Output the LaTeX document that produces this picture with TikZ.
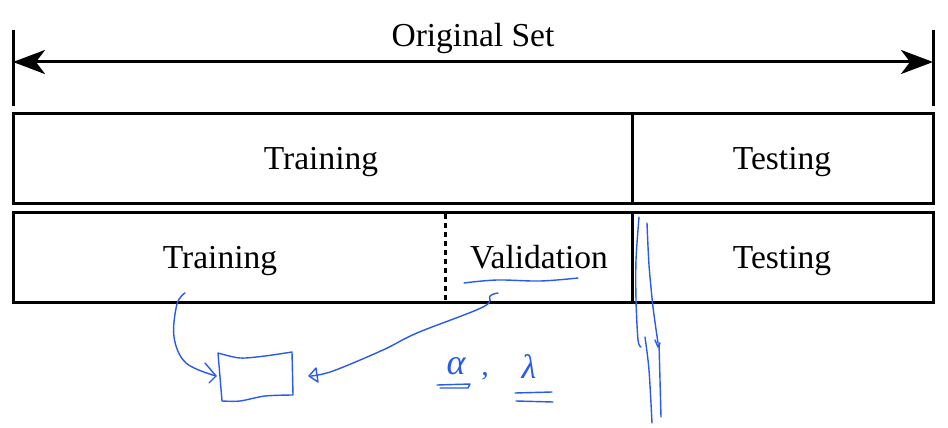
\documentclass[tikz,border=0pt]{standalone}
\usepackage{fontspec}
\setmainfont{Liberation Serif}
\usetikzlibrary{arrows.meta, positioning}
\definecolor{ink}{RGB}{40,90,235}

\begin{document}
\begin{tikzpicture}[x=1pt, y=-1pt,
  frame/.style={line width=3pt, black},
  lbl/.style={font=\fontsize{33.5}{38}\selectfont, inner sep=0pt, anchor=base},
  pen/.style={ink, line width=1.4pt, line cap=round, line join=round},
  hand/.style={ink, inner sep=0pt, font=\itshape}
]
  \useasboundingbox (0,0) rectangle (948,428);

  % Span of the original set
  \coordinate (setL) at (13,62);
  \coordinate (setR) at (933,62);
  \draw[frame] (13,30) -- (13,106);
  \draw[frame] (933,30) -- (933,106);
  \draw[frame, {Stealth[length=32pt, width=24pt, inset=9pt]}-{Stealth[length=32pt, width=24pt, inset=9pt]}]
    (setL) -- (setR);
  \node[lbl] (orig) at (473,47) {Original Set};

  % First split
  \draw[frame] (13,113) rectangle (933,203);
  \draw[frame] (632,113) -- (632,203);
  \node[lbl] (train1) at (321,169) {Training};
  \node[lbl] (test1) at (782,169) {Testing};

  % Second split
  \draw[frame] (13,212) rectangle (933,302);
  \draw[frame] (632,212) -- (632,302);
  \draw[line width=3pt, dash pattern=on 5pt off 4pt] (445,214) -- (445,300);
  \node[lbl] (train2) at (220,268) {Training};
  \node[lbl] (valid) at (539,268) {Validation};
  \node[lbl] (test2) at (782,268) {Testing};

  % Hand notes
  \draw[pen] plot[smooth, tension=0.6] coordinates {(464,283) (497,280) (540,281) (578,278)};
  % model box
  \draw[pen] plot[smooth, tension=0.5] coordinates {(218,353) (240,358) (265,356) (292,352)}
    -- (293,395)
    plot[smooth, tension=0.5] coordinates {(293,395) (265,396) (240,401) (222,401)}
    -- (218,353);
  \coordinate (boxL) at (216,376);
  \coordinate (boxR) at (309,376);
  % arrow from training data
  \draw[pen] plot[smooth, tension=0.6] coordinates {(185,293) (177,304) (174,337) (186,363) (216,376)};
  \draw[pen] (205,363) -- (boxL) -- (209,383);
  % arrow from validation data
  \draw[pen] plot[smooth, tension=0.6] coordinates {(498,293) (490,296) (483,307) (417,333) (383,350) (333,371) (311,376)};
  \draw[pen] (boxR) -- (316,368) -- (318,382) -- cycle;
  % hyperparameters
  \node[hand, font=\itshape\fontsize{36}{40}\selectfont] (alpha) at (456,366) {α};
  \node[hand, font=\fontsize{30}{34}\selectfont] (comma) at (485,376) {,};
  \node[hand, font=\itshape\fontsize{34}{38}\selectfont] (lambda) at (529,367) {λ};
  \draw[pen] (437,385) -- (470,384) -- (468,388) -- (440,388);
  \draw[pen] (515,393) -- (552,392);
  \draw[pen] (516,401) -- (553,402);
  % marks beside the test column
  \draw[pen] plot[smooth, tension=0.5] coordinates {(639,217) (636,260) (636,300) (638,340) (641,347)};
  \draw[pen] plot[smooth, tension=0.5] coordinates {(647,223) (649,265) (653,307) (658,343)};
  \draw[pen] (655,340) -- (658,347) -- (660,343);
  \draw[pen] plot[smooth, tension=0.5] coordinates {(645,337) (649,370) (652,423)};
  \draw[pen] plot[smooth, tension=0.5] coordinates {(659,343) (660,380) (661,417)};
\end{tikzpicture}
\end{document}
